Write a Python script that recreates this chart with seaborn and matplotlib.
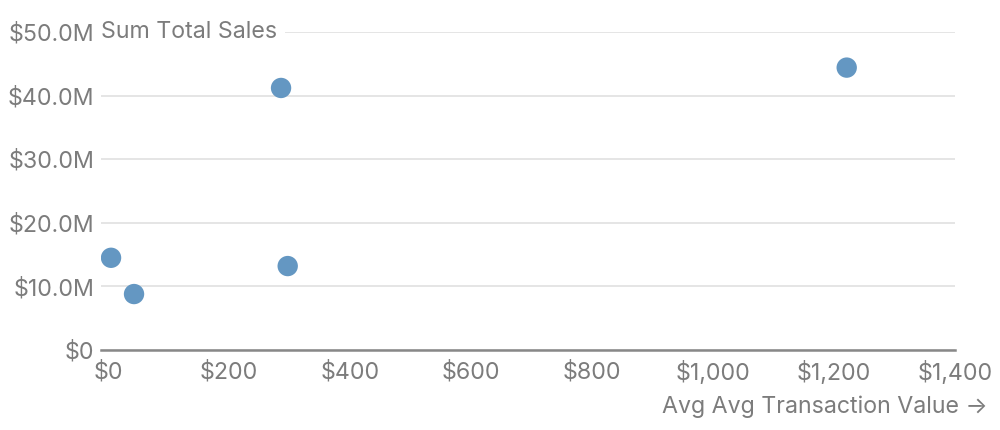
import matplotlib
matplotlib.use("Agg")
import matplotlib.pyplot as plt
import seaborn as sns
import pandas as pd
from matplotlib.ticker import FuncFormatter

avg_transaction = [5, 43, 286, 297, 1221]
total_sales = [14.5e6, 8.8e6, 41.2e6, 13.2e6, 44.4e6]
x_ticks = [0, 200, 400, 600, 800, 1000, 1200, 1400]
y_ticks = [0, 10e6, 20e6, 30e6, 40e6, 50e6]
x_label = "Avg Avg Transaction Value →"
y_label = "Sum Total Sales"

df = pd.DataFrame({"x": avg_transaction, "y": total_sales})

sns.set_theme(style="white")
plt.rcParams["font.family"] = ["Inter", "DejaVu Sans"]

text_color = "#7c7c7c"
fs = 16.7
fig = plt.figure(figsize=(10, 4.3), dpi=100)
ax = fig.add_axes([0.101, 0.186, 0.854, 0.7396])

sns.scatterplot(data=df, x="x", y="y", ax=ax, s=215, color="#6497c2",
                edgecolor="none", zorder=3)

ax.set_xlim(-11.6, 1400)
ax.set_ylim(0, 50e6)
ax.set_xticks(x_ticks)
ax.set_yticks(y_ticks)
ax.xaxis.set_major_formatter(FuncFormatter(lambda v, p: f"${v:,.0f}"))
ax.yaxis.set_major_formatter(FuncFormatter(lambda v, p: "$0" if v == 0 else f"${v/1e6:.1f}M"))
ax.tick_params(axis="both", length=0, labelsize=fs, colors=text_color)
ax.tick_params(axis="y", pad=5)
ax.tick_params(axis="x", pad=8)

ax.grid(axis="y", color="#e3e3e3", linewidth=1.3, zorder=0)
ax.grid(axis="x", visible=False)
for side in ["top", "right", "left"]:
    ax.spines[side].set_visible(False)
ax.spines["bottom"].set_color("#888888")
ax.spines["bottom"].set_linewidth(1.8)
ax.set_xlabel("")
ax.set_ylabel("")

ax.text(0.0, 50e6, y_label, transform=ax.get_yaxis_transform(), ha="left", va="center",
        fontsize=fs, color=text_color, zorder=4,
        bbox=dict(facecolor="white", edgecolor="none", pad=6))
ax.text(0.988, 0.053, x_label, transform=fig.transFigure, ha="right", va="center",
        fontsize=fs, color=text_color)

fig.savefig("out.png", dpi=100)
